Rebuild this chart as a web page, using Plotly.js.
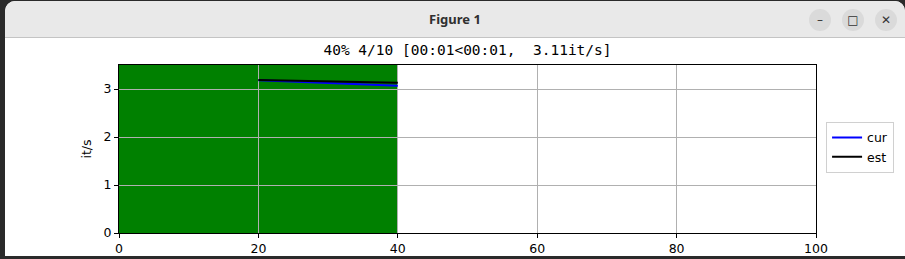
<!DOCTYPE html>
<html>
<head>
<meta charset="utf-8">
<script src="https://cdn.plot.ly/plotly-3.0.1.min.js"></script>
<style>
  html, body { margin: 0; padding: 0; width: 905px; height: 259px; overflow: hidden; background: #2a2a2a; }
  #win { position: absolute; left: 5px; top: 1px; width: 900px; height: 255px; background: #ffffff; border-top-left-radius: 10px; border-top-right-radius: 10px; overflow: hidden; }
  #bar { position: absolute; left: 0; top: 0; width: 900px; height: 36px; background: #e9e9e9; border-bottom: 1px solid #c4c4c4; }
  #bar .t { position: absolute; left: 0; width: 900px; top: 10px; text-align: center; font-family: "Noto Sans", "Open Sans", sans-serif; font-weight: bold; font-size: 13px; color: #303030; line-height: 16px; }
  .btn { position: absolute; top: 8px; width: 22px; height: 22px; border-radius: 11px; background: #dadada; font-family: "DejaVu Sans", sans-serif; font-size: 12px; color: #333; text-align: center; line-height: 22px; }
  #plot { position: absolute; left: 0; top: 0; width: 905px; height: 259px; }
</style>
</head>
<body>
<div id="win">
  <div id="bar">
    <div class="t">Figure 1</div>
    <div class="btn" style="left:804px;">&#8211;</div>
    <div class="btn" style="left:837px;">&#9633;</div>
    <div class="btn" style="left:870px;">&#10005;</div>
  </div>
</div>
<div id="plot"></div>
<script>
// progress state
const progressPct = 40;
const titleText = "40% 4/10 [00:01&lt;00:01,\u00a0\u00a03.11it/s]";
// series (x = percent complete, y = it/s)
const xPct = [20, 40];
const curRate = [3.18, 3.07];
const estRate = [3.19, 3.13];
const seriesNames = ["cur", "est"];
const xTicks = [0, 20, 40, 60, 80, 100];
const yTicks = [0, 1, 2, 3];

const tickFont = { family: "DejaVu Sans, sans-serif", size: 12.5, color: "#000" };

const traces = [
  { x: xPct, y: curRate, name: seriesNames[0], mode: "lines", line: { color: "#0000ff", width: 2 } },
  { x: xPct, y: estRate, name: seriesNames[1], mode: "lines", line: { color: "#000000", width: 2 } }
];

const layout = {
  width: 905, height: 259,
  margin: { l: 119, r: 88, t: 65, b: 26, pad: 0 },
  paper_bgcolor: "rgba(0,0,0,0)",
  plot_bgcolor: "#ffffff",
  showlegend: true,
  title: {
    text: titleText,
    font: { family: "DejaVu Sans Mono, monospace", size: 14.5, color: "#000" },
    x: 0.5, xref: "paper", xanchor: "center",
    y: 1 - 50 / 259, yref: "container", yanchor: "middle"
  },
  xaxis: {
    range: [0, 100], tickvals: xTicks, ticktext: xTicks.map(String),
    showgrid: true, gridcolor: "#b0b0b0", gridwidth: 1,
    zeroline: false, showline: true, linecolor: "#000", linewidth: 1, mirror: true,
    ticks: "outside", ticklen: 4, tickcolor: "#000", tickwidth: 1,
    tickfont: tickFont, fixedrange: true
  },
  yaxis: {
    range: [0, 3.5], tickvals: yTicks, ticktext: yTicks.map(String),
    showgrid: true, gridcolor: "#b0b0b0", gridwidth: 1,
    zeroline: false, showline: true, linecolor: "#000", linewidth: 1, mirror: true,
    ticks: "outside", ticklen: 4, tickcolor: "#000", tickwidth: 1,
    tickfont: tickFont, fixedrange: true,
    title: { text: "it/s", font: tickFont, standoff: 9 }
  },
  shapes: [
    { type: "rect", xref: "x", yref: "paper", x0: 0, x1: progressPct, y0: 0, y1: 1,
      fillcolor: "#008000", line: { width: 0 }, layer: "below" }
  ],
  legend: {
    x: 1.013, xanchor: "left", y: 0.51, yanchor: "middle",
    bgcolor: "#ffffff", bordercolor: "#d0d0d0", borderwidth: 1,
    font: { family: "DejaVu Sans, sans-serif", size: 12.5, color: "#000" },
    tracegroupgap: 0, itemwidth: 30
  }
};

Plotly.newPlot("plot", traces, layout, { displayModeBar: false, staticPlot: true });
</script>
</body>
</html>
